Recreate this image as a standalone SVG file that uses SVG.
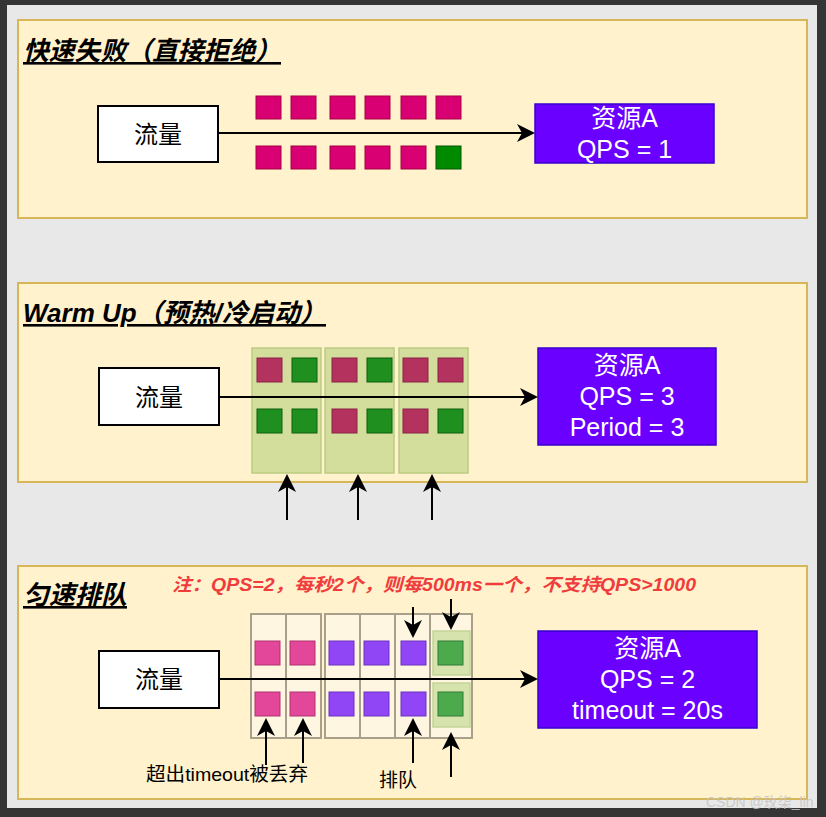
<svg xmlns="http://www.w3.org/2000/svg" width="826" height="817" viewBox="0 0 826 817">
<defs>
<style>
.panel{fill:#fff2cc;stroke:#d6b656;stroke-width:2}
.title{font-family:"Liberation Sans","Noto Sans CJK SC",sans-serif;font-weight:bold;font-style:italic;font-size:26px;fill:#000;text-decoration:underline}
.src{fill:#fff;stroke:#000;stroke-width:2}
.srct{font-family:"Liberation Sans","Noto Sans CJK SC",sans-serif;font-size:24px;fill:#000;text-anchor:middle}
.res{fill:#6a00ff;stroke:#3700cc;stroke-width:1.5}
.rest{font-family:"Liberation Sans","Noto Sans CJK SC",sans-serif;font-size:25px;fill:#fff;text-anchor:middle}
.m1{fill:#d80073;stroke:#a50040;stroke-width:1}
.g1{fill:#008a00;stroke:#005700;stroke-width:1}
.col{fill:#d3de9c;stroke:#bccb82;stroke-width:1.5}
.r2{fill:#b3325e;stroke:#8a2246;stroke-width:1}
.g2{fill:#1f8f1f;stroke:#0f5f0f;stroke-width:1}
.cell{fill:#fef6e0;stroke:#a8a08a;stroke-width:2}
.hl{fill:#d6e3ac;stroke:#c3d596;stroke-width:1.5}
.p3{fill:#e2479a;stroke:#b03070;stroke-width:1}
.v3{fill:#9146f5;stroke:#6a30c0;stroke-width:1}
.g3{fill:#4caa4c;stroke:#2f7d32;stroke-width:1}
.ln{stroke:#000;stroke-width:2;fill:none}
.lbl{font-family:"Liberation Sans","Noto Sans CJK SC",sans-serif;font-size:19px;fill:#000}
.note{font-family:"Liberation Sans","Noto Sans CJK SC",sans-serif;font-weight:bold;font-style:italic;font-size:18px;fill:#f03c3c}
</style>
<marker id="ah" viewBox="0 0 18 18" refX="6" refY="9" markerWidth="18" markerHeight="18" markerUnits="userSpaceOnUse" orient="auto">
<path d="M0,0 L18,9 L0,18 L5,9 Z" fill="#000"/>
</marker>
</defs>
<rect x="0" y="0" width="826" height="817" fill="#353535"/>
<rect x="7" y="5" width="810" height="803" fill="#e8e8e8"/>

<g id="panel1">
<rect class="panel" x="18" y="20" width="789" height="198"/>
<text class="title" x="23" y="60" textLength="258" lengthAdjust="spacingAndGlyphs">快速失败（直接拒绝）</text>
</g>
<g id="panel2">
<rect class="panel" x="18" y="283" width="789" height="199"/>
<text class="title" x="23" y="322" textLength="303" lengthAdjust="spacingAndGlyphs">Warm Up（预热/冷启动）</text>
</g>
<g id="panel3">
<rect class="panel" x="18" y="566" width="789" height="233"/>
<text class="title" x="23" y="604" textLength="104" lengthAdjust="spacingAndGlyphs">匀速排队</text>
<text class="note" x="172" y="591" textLength="524" lengthAdjust="spacingAndGlyphs">注：QPS=2，每秒2个，则每500ms一个，不支持QPS&gt;1000</text>
</g>

<!-- Panel 1 nodes -->
<g id="flow1">
<rect class="src" x="98" y="106" width="120" height="56"/>
<text class="srct" x="158" y="143">流量</text>
</g>
<g id="res1">
<rect class="res" x="535" y="104" width="179" height="59"/>
<text class="rest" x="624.5" y="127">资源A</text>
<text class="rest" x="624.5" y="158">QPS = 1</text>
</g>
<g id="req1">
<rect class="m1" x="256" y="96" width="25" height="23"/>
<rect class="m1" x="291" y="96" width="25" height="23"/>
<rect class="m1" x="330" y="96" width="25" height="23"/>
<rect class="m1" x="365" y="96" width="25" height="23"/>
<rect class="m1" x="401" y="96" width="25" height="23"/>
<rect class="m1" x="436" y="96" width="25" height="23"/>
<rect class="m1" x="256" y="146" width="25" height="23"/>
<rect class="m1" x="291" y="146" width="25" height="23"/>
<rect class="m1" x="330" y="146" width="25" height="23"/>
<rect class="m1" x="365" y="146" width="25" height="23"/>
<rect class="m1" x="401" y="146" width="25" height="23"/>
<rect class="g1" x="436" y="146" width="25" height="23"/>
</g>

<!-- Panel 2 nodes -->
<g id="flow2">
<rect class="src" x="99" y="368" width="120" height="57"/>
<text class="srct" x="159" y="406">流量</text>
</g>
<g id="res2">
<rect class="res" x="538" y="348" width="178" height="97"/>
<text class="rest" x="627" y="374">资源A</text>
<text class="rest" x="627" y="405">QPS = 3</text>
<text class="rest" x="627" y="436">Period = 3</text>
</g>
<g id="warm">
<rect class="col" x="252" y="348" width="69" height="125"/>
<rect class="col" x="325" y="348" width="69" height="125"/>
<rect class="col" x="399" y="348" width="69" height="125"/>
<rect class="r2" x="257" y="358" width="25" height="24"/>
<rect class="g2" x="292" y="358" width="25" height="24"/>
<rect class="r2" x="332" y="358" width="25" height="24"/>
<rect class="g2" x="367" y="358" width="25" height="24"/>
<rect class="r2" x="403" y="358" width="25" height="24"/>
<rect class="r2" x="438" y="358" width="25" height="24"/>
<rect class="g2" x="257" y="409" width="25" height="24"/>
<rect class="g2" x="292" y="409" width="25" height="24"/>
<rect class="r2" x="332" y="409" width="25" height="24"/>
<rect class="g2" x="367" y="409" width="25" height="24"/>
<rect class="r2" x="403" y="409" width="25" height="24"/>
<rect class="g2" x="438" y="409" width="25" height="24"/>
</g>

<!-- Panel 3 nodes -->
<g id="flow3">
<rect class="src" x="99" y="651" width="120" height="57"/>
<text class="srct" x="159" y="688">流量</text>
</g>
<g id="res3">
<rect class="res" x="538" y="631" width="219" height="97"/>
<text class="rest" x="647.5" y="657">资源A</text>
<text class="rest" x="647.5" y="688">QPS = 2</text>
<text class="rest" x="647.5" y="719">timeout = 20s</text>
</g>
<g id="queue">
<rect class="cell" x="251" y="614" width="35" height="124"/>
<rect class="cell" x="286" y="614" width="35" height="124"/>
<rect class="cell" x="325" y="614" width="35" height="124"/>
<rect class="cell" x="360" y="614" width="35" height="124"/>
<rect class="cell" x="395" y="614" width="35" height="124"/>
<rect class="cell" x="430" y="614" width="42" height="124"/>
<rect class="hl" x="433" y="631" width="37" height="44"/>
<rect class="hl" x="433" y="683" width="37" height="44"/>
<rect class="p3" x="255" y="641" width="25" height="24"/>
<rect class="p3" x="290" y="641" width="25" height="24"/>
<rect class="v3" x="329" y="641" width="25" height="24"/>
<rect class="v3" x="364" y="641" width="25" height="24"/>
<rect class="v3" x="401" y="641" width="25" height="24"/>
<rect class="g3" x="438" y="641" width="25" height="24"/>
<rect class="p3" x="255" y="692" width="25" height="24"/>
<rect class="p3" x="290" y="692" width="25" height="24"/>
<rect class="v3" x="329" y="692" width="25" height="24"/>
<rect class="v3" x="364" y="692" width="25" height="24"/>
<rect class="v3" x="401" y="692" width="25" height="24"/>
<rect class="g3" x="438" y="692" width="25" height="24"/>
</g>
<g id="labels3">
<text class="lbl" x="146" y="781" textLength="162" lengthAdjust="spacingAndGlyphs">超出timeout被丢弃</text>
<text class="lbl" x="379" y="787">排队</text>
</g>

<g id="connectors">
<line class="ln" x1="218" y1="133" x2="523" y2="133" marker-end="url(#ah)"/>
<line class="ln" x1="219" y1="397" x2="526" y2="397" marker-end="url(#ah)"/>
<line class="ln" x1="219" y1="679" x2="526" y2="679" marker-end="url(#ah)"/>
<line class="ln" x1="287" y1="520" x2="287" y2="486" marker-end="url(#ah)"/>
<line class="ln" x1="358" y1="520" x2="358" y2="486" marker-end="url(#ah)"/>
<line class="ln" x1="432" y1="520" x2="432" y2="486" marker-end="url(#ah)"/>
<line class="ln" x1="413" y1="607" x2="413" y2="626" marker-end="url(#ah)"/>
<line class="ln" x1="451" y1="599" x2="451" y2="618" marker-end="url(#ah)"/>
<line class="ln" x1="266" y1="765" x2="266" y2="730" marker-end="url(#ah)"/>
<line class="ln" x1="303" y1="763" x2="303" y2="730" marker-end="url(#ah)"/>
<line class="ln" x1="413" y1="763" x2="413" y2="730" marker-end="url(#ah)"/>
<line class="ln" x1="451" y1="777" x2="451" y2="744" marker-end="url(#ah)"/>
</g>

<text x="706" y="807" font-family="Liberation Sans, Noto Sans CJK SC, sans-serif" font-size="14" fill="#c4c4c4" fill-opacity="0.85">CSDN @玫柒_lin</text>
</svg>
